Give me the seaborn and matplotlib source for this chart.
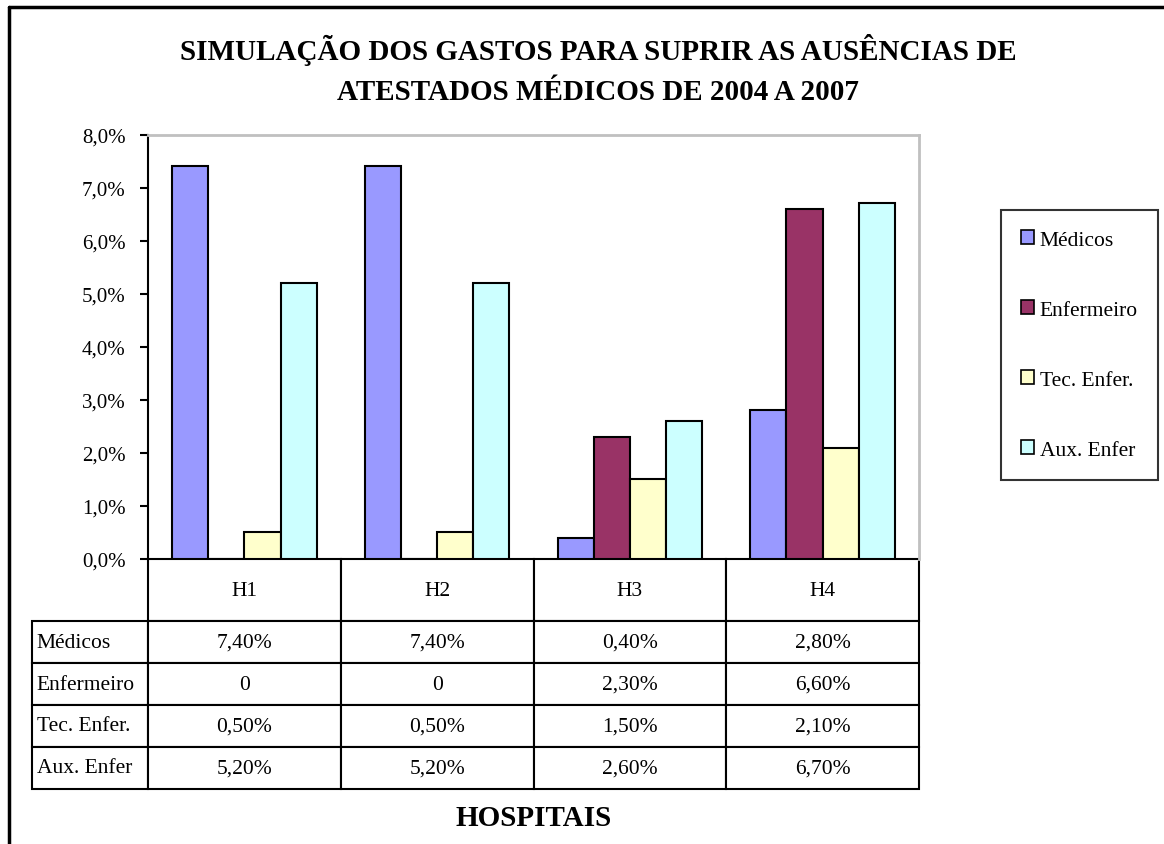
import pandas as pd
import matplotlib.pyplot as plt
import numpy as np
import seaborn as sns
from matplotlib.ticker import FuncFormatter
from matplotlib.lines import Line2D

hospitais = ['H1', 'H2', 'H3', 'H4']
categorias = ['Médicos', 'Enfermeiro', 'Tec. Enfer.', 'Aux. Enfer']
medicos = [7.4, 7.4, 0.4, 2.8]
enfermeiro = [0.0, 0.0, 2.3, 6.6]
tec_enfer = [0.5, 0.5, 1.5, 2.1]
aux_enfer = [5.2, 5.2, 2.6, 6.7]
cores = ['#9999FF', '#993366', '#FFFFCC', '#CCFFFF']

valores = {'Médicos': medicos, 'Enfermeiro': enfermeiro,
           'Tec. Enfer.': tec_enfer, 'Aux. Enfer': aux_enfer}
df = pd.DataFrame([(h, c, valores[c][i]) for c in categorias for i, h in enumerate(hospitais)],
                  columns=['Hospital', 'Categoria', 'Valor'])

sns.set_style('white')
plt.rcParams['font.family'] = ['Liberation Serif', 'DejaVu Serif']
plt.rcParams['text.color'] = 'black'
plt.rcParams['ytick.color'] = 'black'
plt.rcParams['axes.labelcolor'] = 'black'

fig = plt.figure(figsize=(11.64, 8.45), dpi=100)
ax = fig.add_axes([148/1164, 1-560/845, 771/1164, 424.5/845])

sns.barplot(data=df, x='Hospital', y='Valor', hue='Categoria', palette=cores,
            saturation=1, edgecolor='black', linewidth=1.5, width=0.75, ax=ax, legend=True)

ax.set_ylim(0, 8)
ax.set_yticks(np.arange(0, 9, 1))
ax.yaxis.set_major_formatter(FuncFormatter(lambda v, p: f'{v:.1f}%'.replace('.', ',')))
ax.tick_params(axis='y', labelsize=15, direction='out', length=6, width=1.5,
               pad=10, color='black', labelcolor='black', left=True)
ax.set_xticks([])
ax.set_xlabel('')
ax.set_ylabel('')
ax.spines['left'].set_color('black')
ax.spines['left'].set_linewidth(1.5)
ax.spines['top'].set_color('#C0C0C0')
ax.spines['right'].set_color('#C0C0C0')
ax.spines['top'].set_linewidth(2)
ax.spines['right'].set_linewidth(2)
ax.spines['bottom'].set_visible(False)

# data table under the chart
linhas = [[''] + hospitais]
for c in categorias:
    linhas.append([c] + [('0' if v == 0 else f'{v:.2f}%'.replace('.', ',')) for v in valores[c]])
tab = ax.table(cellText=linhas, cellLoc='center',
               colWidths=[116] + [192.75] * 4,
               bbox=[-116/771, -230/424.5, 887/771, 230/424.5])
tab.auto_set_font_size(False)
tab.set_fontsize(15.5)
for (r, c), cell in tab.get_celld().items():
    cell.set_linewidth(1.5)
    cell.set_height(62 if r == 0 else 42)
    cell.get_text().set_color('black')
    if c == 0:
        cell.set_text_props(ha='left')
        cell.PAD = 0.04
    if r == 0 and c == 0:
        cell.visible_edges = ''

handles, labels = ax.get_legend_handles_labels()
ax.legend_.remove()
leg = fig.legend(handles, labels, loc='center left',
                 bbox_to_anchor=(1001/1164, 1-346/845), fontsize=15.5,
                 frameon=True, fancybox=False, edgecolor='black',
                 handlelength=0.6, handleheight=0.6, handletextpad=0.25,
                 labelspacing=2.35, borderpad=0.95, borderaxespad=0)
leg.get_frame().set_linewidth(1.5)
for h in leg.legend_handles:
    h.set_edgecolor('black')
    h.set_linewidth(1.2)

fig.text(598/1164, 1-70/845, 'SIMULAÇÃO DOS GASTOS PARA SUPRIR AS AUSÊNCIAS DE\nATESTADOS MÉDICOS DE 2004 A 2007',
         ha='center', va='center', fontsize=21, fontweight='bold', linespacing=1.6)
fig.text(534/1164, 1-819/845, 'HOSPITAIS', ha='center', va='center', fontsize=21, fontweight='bold')

# outer chart border (top and left)
fig.add_artist(Line2D([9/1164, 1], [1-8/845, 1-8/845], color='black', lw=2.5))
fig.add_artist(Line2D([9/1164, 9/1164], [0, 1-8/845], color='black', lw=2.5))

fig.savefig('out.png', dpi=100)
